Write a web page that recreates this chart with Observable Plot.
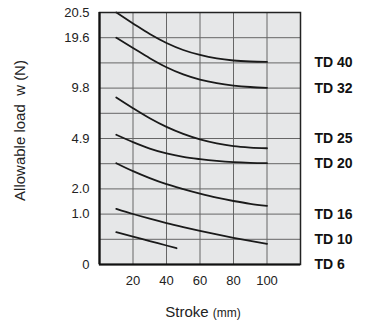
<!DOCTYPE html>
<html>
<head>
<meta charset="utf-8">
<script src="https://cdn.jsdelivr.net/npm/d3@7"></script>
<script src="https://cdn.jsdelivr.net/npm/@observablehq/plot@0.6"></script>
<style>
  html, body { margin: 0; padding: 0; background: #fff; }
  #xlabel { font-family: "Liberation Sans", Arial, sans-serif; color: #222; margin-left: 40px; width: 326px; text-align: center; height: 27px; line-height: 27px; padding-top: 2px; font-size: 15px; }
  #xlabel small { font-size: 12px; }
</style>
</head>
<body>
<div id="chart"></div>
<div id="xlabel">Stroke <small>(mm)</small></div>
<script>
// Data
const strokeFull = [10, 20, 30, 40, 50, 60, 70, 80, 90, 100];
const strokeTD6 = [10, 20, 30, 40, 46];
const td40 = [20.5, 20.11, 19.73, 18.57, 17.21, 16.24, 15.56, 15.17, 14.97, 14.88];
const td32 = [19.6, 17.60, 15.62, 13.86, 12.46, 11.45, 10.75, 10.29, 10.01, 9.86];
const td25 = [8.89, 7.85, 6.87, 6.03, 5.35, 4.85, 4.62, 4.46, 4.38, 4.34];
const td20 = [5.26, 4.69, 4.32, 4.04, 3.84, 3.71, 3.61, 3.54, 3.50, 3.48];
const td16 = [3.48, 3.02, 2.62, 2.27, 1.99, 1.81, 1.65, 1.52, 1.41, 1.33];
const td10 = [1.21, 1.004, 0.909, 0.823, 0.744, 0.669, 0.597, 0.530, 0.468, 0.41];
const td6 = [0.64, 0.554, 0.464, 0.377, 0.323];

const seriesNames = ["TD 40", "TD 32", "TD 25", "TD 20", "TD 16", "TD 10", "TD 6"];
const labelLoads = [14.7, 9.8, 4.9, 3.45, 1.0, 0.5, 0];

const yTicks = [0, 1.0, 2.0, 4.9, 9.8, 19.6, 20.5];
const yGrid = [0.5, 1.0, 2.0, 3.45, 4.9, 7.35, 9.8, 14.7, 19.6];
const xTicks = [20, 40, 60, 80, 100];

const series = [
  [seriesNames[0], strokeFull, td40],
  [seriesNames[1], strokeFull, td32],
  [seriesNames[2], strokeFull, td25],
  [seriesNames[3], strokeFull, td20],
  [seriesNames[4], strokeFull, td16],
  [seriesNames[5], strokeFull, td10],
  [seriesNames[6], strokeTD6, td6]
];
const rows = series.flatMap(([name, xs, ys]) => xs.map((x, i) => ({name, stroke: x, load: ys[i]})));
const labels = seriesNames.map((n, i) => ({name: n, load: labelLoads[i]}));

// piecewise (non-uniform) load axis as in the original: labelled values sit on grid rows
const yDomain = [0, 1.0, 2.0, 4.9, 9.8, 19.6, 20.5];
const yRows = [0, 2, 3, 5, 7, 9, 10];
const loadToRow = d3.scaleLinear().domain(yDomain).range(yRows);

const chart = Plot.plot({
  width: 366,
  height: 296,
  marginLeft: 99,
  marginRight: 66,
  marginTop: 12,
  marginBottom: 32,
  style: {fontFamily: "'Liberation Sans', Arial, sans-serif", fontSize: "13px", color: "#222", background: "#fff"},
  x: {domain: [0, 120], label: null},
  y: {transform: v => loadToRow(v), domain: [0, 10], label: null},
  marks: [
    Plot.frame({fill: "#e6e7e8"}),
    Plot.ruleX(xTicks, {stroke: "#666", strokeWidth: 1}),
    Plot.ruleY(yGrid, {stroke: "#666", strokeWidth: 1}),
    Plot.line(rows, {x: "stroke", y: "load", z: "name", stroke: "#1a1a1a", strokeWidth: 1.8, curve: "monotone-x"}),
    Plot.frame({stroke: "#222", strokeWidth: 1.5}),
    Plot.ruleX([0], {stroke: "#111", strokeWidth: 2.2}),
    Plot.ruleY([0], {stroke: "#111", strokeWidth: 2.2}),
    Plot.axisX(xTicks, {tickSize: 0, tickPadding: 11, fontSize: 13, label: null}),
    Plot.axisY(yTicks, {tickSize: 0, tickPadding: 10, fontSize: 13, label: null, tickFormat: d => d === 0 ? "0" : d.toFixed(1)}),
    Plot.text(labels, {x: () => 120, y: "load", text: "name", dx: 14, textAnchor: "start", fontWeight: "bold", fontSize: 14, fill: "#111"}),
    Plot.text(["Allowable load  w (N)"], {frameAnchor: "left", dx: -79, dy: -8, rotate: -90, textAnchor: "middle", fontSize: 15, fill: "#222"})
  ]
});
document.getElementById("chart").appendChild(chart);
</script>
</body>
</html>
